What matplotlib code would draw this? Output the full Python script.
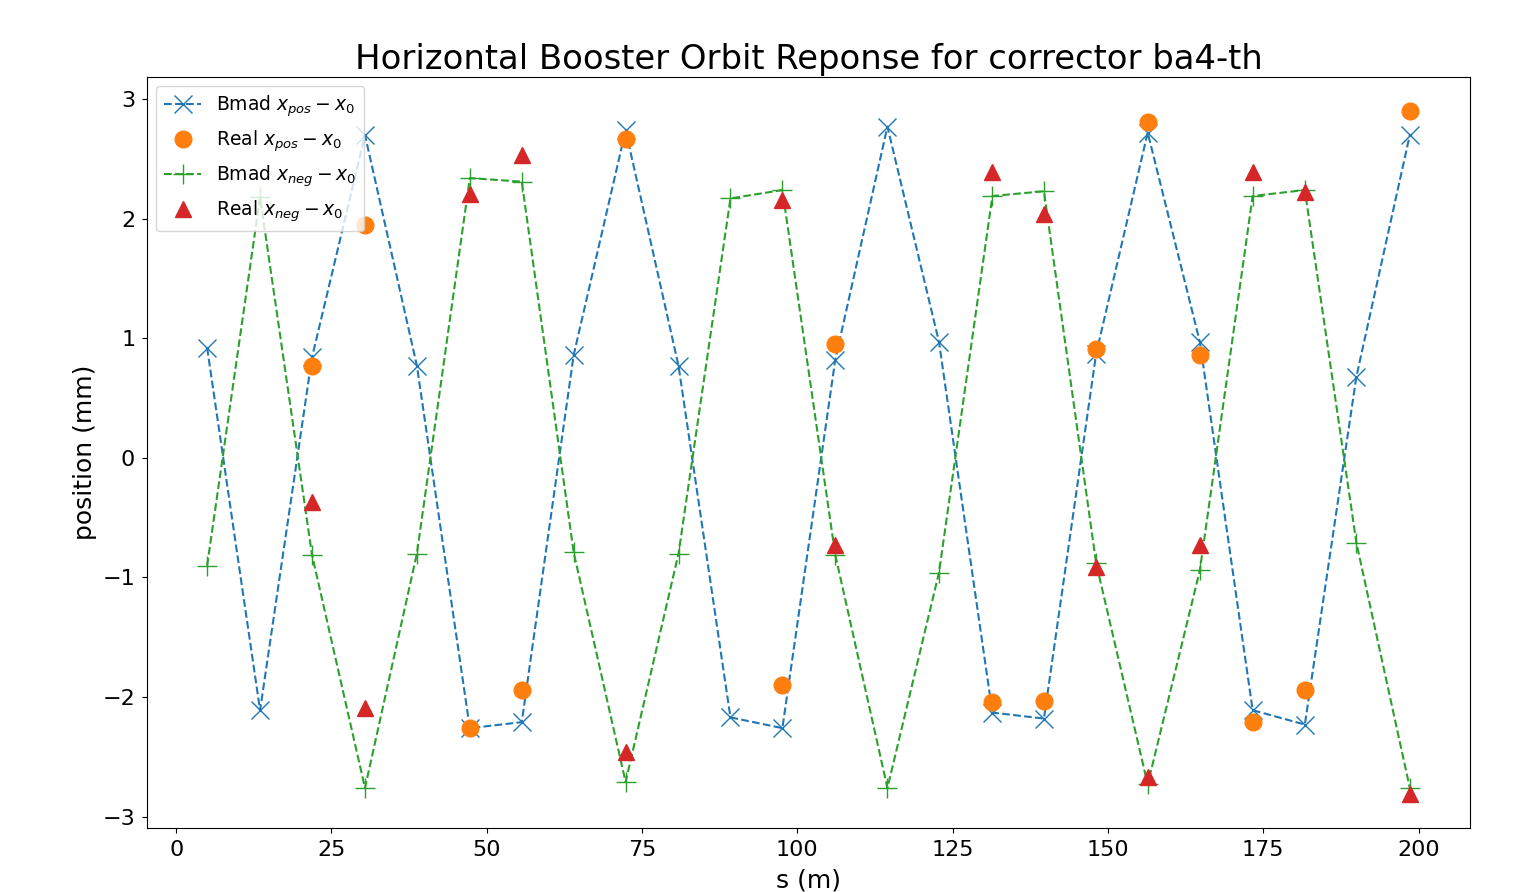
import numpy as np
import matplotlib
matplotlib.use('Agg')
import matplotlib.pyplot as plt

# BPM positions along the ring (m)
s_bpm = [4.98, 13.5, 21.86, 30.39, 38.75, 47.27, 55.63, 63.99, 72.35, 80.87,
         89.23, 97.59, 106.1, 114.5, 122.8, 131.4, 139.7, 148.1, 156.4, 164.8,
         173.3, 181.7, 190.0, 198.6]

# Bmad model orbit differences (mm)
bmad_pos = [0.92, -2.11, 0.84, 2.70, 0.77, -2.26, -2.21, 0.86, 2.74, 0.77,
            -2.17, -2.26, 0.82, 2.77, 0.97, -2.13, -2.18, 0.87, 2.72, 0.97,
            -2.11, -2.23, 0.68, 2.70]
bmad_neg = [-0.90, 2.18, -0.81, -2.76, -0.80, 2.34, 2.31, -0.79, -2.71, -0.80,
            2.17, 2.24, -0.81, -2.76, -0.96, 2.19, 2.23, -0.88, -2.73, -0.94,
            2.19, 2.24, -0.71, -2.76]

# measured orbit differences at working BPMs (mm)
s_real = [21.86, 30.39, 47.27, 55.63, 72.35, 97.59, 106.1, 131.4, 139.7,
          148.1, 156.4, 164.8, 173.3, 181.7, 198.6]
real_pos = [0.77, 1.95, -2.26, -1.94, 2.67, -1.90, 0.95, -2.04, -2.03,
            0.91, 2.81, 0.86, -2.21, -1.94, 2.90]
real_neg = [-0.37, -2.09, 2.21, 2.53, -2.46, 2.16, -0.73, 2.39, 2.04,
            -0.91, -2.67, -0.73, 2.39, 2.22, -2.81]

fig = plt.figure(figsize=(15.14, 8.92), dpi=100)
ax = fig.add_axes([0.0971, 0.0717, 0.8738, 0.842])

ax.plot(s_bpm, bmad_pos, 'x--', color='tab:blue', markersize=13,
        label=r'Bmad $x_{pos} - x_0$')
ax.plot(s_real, real_pos, 'o', color='tab:orange', markersize=12,
        label=r'Real $x_{pos} - x_0$')
ax.plot(s_bpm, bmad_neg, '+--', color='tab:green', markersize=14,
        label=r'Bmad $x_{neg} - x_0$')
ax.plot(s_real, real_neg, '^', color='tab:red', markersize=12,
        label=r'Real $x_{neg} - x_0$')

ax.set_title('Horizontal Booster Orbit Reponse for corrector ba4-th', fontsize=24.4)
ax.set_xlabel('s (m)', fontsize=18, labelpad=6)
ax.set_ylabel('position (mm)', fontsize=18)
ax.tick_params(labelsize=16, pad=5)
ax.legend(loc='upper left', fontsize=13.5)

fig.savefig('out.png', dpi=100)
